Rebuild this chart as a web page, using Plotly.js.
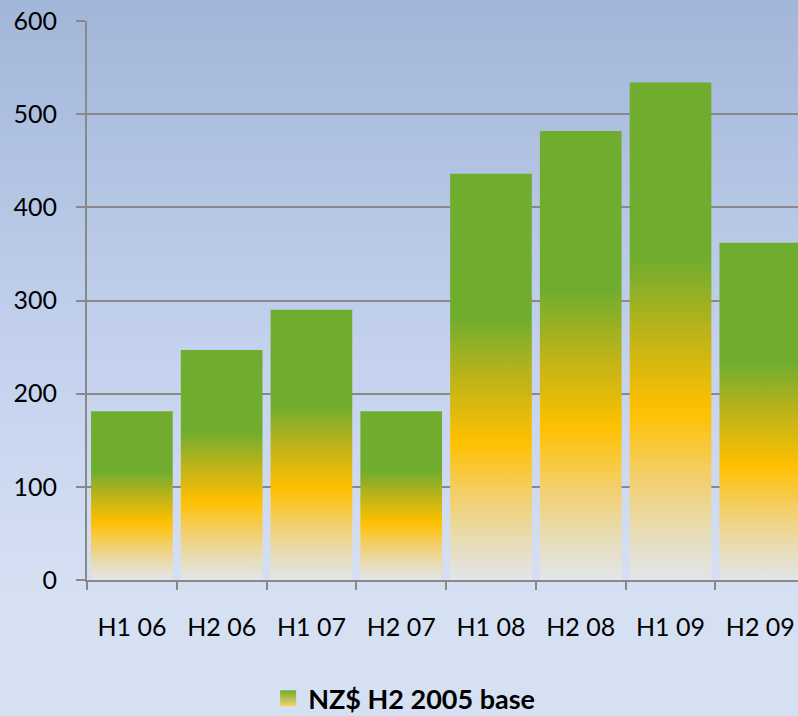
<!DOCTYPE html>
<html>
<head>
<meta charset="utf-8">
<script src="https://cdn.plot.ly/plotly-3.0.1.min.js"></script>
<style>
  html, body { margin: 0; padding: 0; }
  body { width: 798px; height: 716px; overflow: hidden;
         background: linear-gradient(180deg, #A2B6D9 0%, #C4D2EE 50%, #D6E0F3 82%, #D6E0F3 100%); }
  #chart { width: 798px; height: 716px; }
</style>
</head>
<body>
<div id="chart"></div>
<script>
const categories = ['H1 06', 'H2 06', 'H1 07', 'H2 07', 'H1 08', 'H2 08', 'H1 09', 'H2 09'];
const values = [181, 247, 290, 181, 436, 482, 534, 362];
const seriesName = 'NZ$ H2 2005 base';
const yTicks = [0, 100, 200, 300, 400, 500, 600];

const barWidth = 0.91;
const gradientScale = [
  [0.00, '#E2E5EB'],
  [0.10, '#E8DCB2'],
  [0.20, '#F2D070'],
  [0.34, '#FFC000'],
  [0.50, '#BCB31A'],
  [0.645, '#70AD2F'],
  [1.00, '#70AD2F']
];

const traces = categories.map((c, i) => {
  const v = values[i];
  const x0 = i - barWidth / 2, x1 = i + barWidth / 2;
  return {
    type: 'scatter',
    mode: 'none',
    name: seriesName,
    x: [x0, x1, x1, x0, x0],
    y: [0, 0, v, v, 0],
    fill: 'toself',
    fillcolor: '#70AD2F',
    fillgradient: { type: 'vertical', colorscale: gradientScale, start: 0, stop: v },
    hoverinfo: 'skip',
    showlegend: false,
    legendgroup: 'g'
  };
});

// legend entry for the series (square swatch with vertical gradient)
traces.push({
  type: 'scatter', mode: 'markers', name: seriesName, legendgroup: 'g',
  x: [null], y: [null],
  marker: { symbol: 'square', size: 18, color: '#70AD2F',
            gradient: { type: 'vertical', color: '#F7D36A' }, line: { width: 0 } },
  hoverinfo: 'skip', showlegend: true
});

const gridColor = '#898989';
const font = { family: 'Lato, "Open Sans", sans-serif', size: 25, color: '#000000' };
const xRange = [-0.5, 7.42];

const layout = {
  width: 798, height: 716,
  margin: { l: 87, r: 0, t: 21, b: 136 },
  paper_bgcolor: 'rgba(0,0,0,0)',
  plot_bgcolor: 'rgba(0,0,0,0)',
  font: font,
  showlegend: true,
  legend: {
    orientation: 'h', xref: 'container', yref: 'container',
    x: 0.336, xanchor: 'left', y: 0.024, yanchor: 'middle',
    font: { family: 'Lato, sans-serif', size: 27, color: '#000000', weight: 'bold' },
    bgcolor: 'rgba(0,0,0,0)'
  },
  xaxis: {
    range: xRange, tickmode: 'array',
    tickvals: categories.map((c, i) => i), ticktext: categories,
    ticks: '', showgrid: false, zeroline: false,
    showline: true, linecolor: gridColor, linewidth: 2,
    ticklabelstandoff: 24, fixedrange: true
  },
  xaxis2: {
    overlaying: 'x', matches: 'x', range: xRange, tickmode: 'array',
    tickvals: categories.map((c, i) => i - 0.5).concat([categories.length - 0.5]),
    ticks: 'outside', ticklen: 9, tickwidth: 2, tickcolor: gridColor,
    showticklabels: false, showgrid: false, zeroline: false, showline: false
  },
  yaxis: {
    range: [0, 600], tickmode: 'array', tickvals: yTicks,
    ticks: 'outside', ticklen: 9, tickwidth: 2, tickcolor: gridColor,
    showgrid: true, gridcolor: gridColor, gridwidth: 2,
    showline: true, linecolor: gridColor, linewidth: 2,
    zeroline: false, ticklabelstandoff: 14, fixedrange: true
  }
};

// invisible helper trace so xaxis2 (boundary tick marks) is rendered
traces.push({ type: 'scatter', mode: 'none', x: [0], y: [0], xaxis: 'x2', showlegend: false, hoverinfo: 'skip' });

Plotly.newPlot('chart', traces, layout, { displayModeBar: false, staticPlot: true });
</script>
</body>
</html>
